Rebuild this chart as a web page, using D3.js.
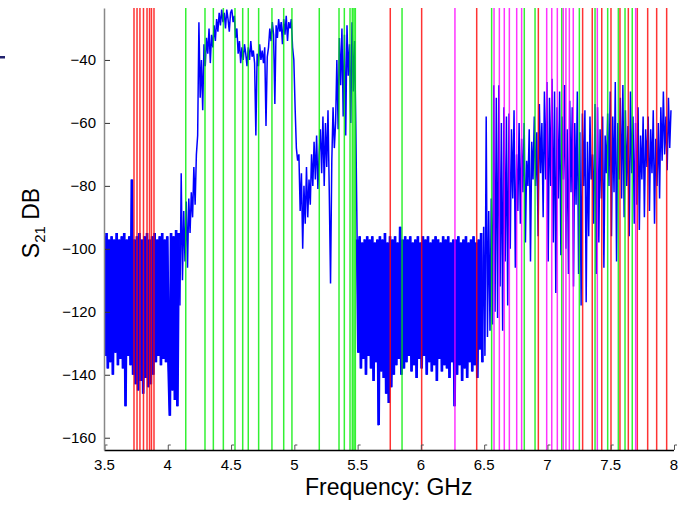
<!DOCTYPE html>
<html>
<head>
<meta charset="utf-8">
<script src="https://cdn.jsdelivr.net/npm/d3@7"></script>
<style>
  body { margin: 0; background: #fff; }
  text { font-family: "Liberation Sans", Arial, sans-serif; }
</style>
</head>
<body>
<div id="graph"></div>
<script>
//Frequency grid of the measured trace (GHz).
let fStart = 3.5;
let fStep = 0.01;

//Measured S21 (dB), one value per grid step, read row by row (0.1 GHz per row).
let s21 = [
  -96,-134,-95,-138,-97,-136,-96,-140,-97,-133,   // 3.5
  -95,-137,-97,-135,-96,-138,-95,-150,-97,-134,   // 3.6
  -96,-137,-78,-140,-97,-143,-96,-145,-95,-142,   // 3.7
  -97,-146,-96,-141,-95,-144,-97,-143,-96,-140,   // 3.8
  -95,-136,-97,-134,-96,-137,-95,-135,-97,-136,   // 3.9
  -96,-137,-153,-95,-145,-96,-148,-94,-150,-95,   // 4.0
  -118,-76,-110,-88,-104,-85,-106,-84,-95,-82,    // 4.1
  -90,-74,-86,-70,-64,-28,-52,-40,-56,-35,        // 4.2
  -42,-33,-38,-30,-41,-32,-36,-29,-34,-27,        // 4.3
  -31,-25,-29,-24,-28,-25,-30,-24,-27,-31,        // 4.4
  -25,-24,-28,-26,-33,-30,-38,-34,-41,-36,        // 4.5
  -40,-35,-38,-42,-36,-40,-34,-39,-37,-41,        // 4.6
  -64,-38,-42,-35,-40,-37,-41,-36,-61,-39,        // 4.7
  -36,-30,-34,-28,-32,-54,-29,-33,-27,-31,        // 4.8
  -28,-35,-27,-32,-26,-34,-28,-30,-27,-36,        // 4.9
  -40,-55,-68,-72,-70,-88,-76,-100,-80,-92,       // 5.0
  -74,-90,-78,-86,-70,-80,-66,-78,-64,-81,        // 5.1
  -70,-62,-76,-58,-80,-60,-74,-56,-82,-111,       // 5.2
  -72,-55,-68,-60,-40,-62,-33,-48,-30,-58,        // 5.3
  -32,-64,-29,-45,-35,-60,-28,-50,-34,-62,        // 5.4
  -97,-133,-96,-138,-98,-135,-97,-140,-96,-134,   // 5.5
  -97,-138,-96,-142,-98,-136,-97,-156,-96,-139,   // 5.6
  -97,-141,-95,-146,-98,-149,-96,-144,-97,-140,   // 5.7
  -96,-137,-98,-135,-93,-140,-97,-138,-96,-136,   // 5.8
  -97,-134,-96,-139,-98,-137,-97,-141,-96,-135,   // 5.9
  -98,-138,-96,-134,-97,-140,-96,-136,-98,-139,   // 6.0
  -97,-137,-96,-142,-97,-135,-98,-139,-96,-137,   // 6.1
  -97,-138,-96,-141,-98,-136,-97,-150,-97,-140,   // 6.2
  -96,-137,-98,-142,-97,-138,-96,-141,-98,-136,   // 6.3
  -97,-139,-96,-137,-98,-141,-97,-132,-95,-136,   // 6.4
  -93,-134,-58,-128,-88,-126,-84,-124,-48,-120,   // 6.5
  -52,-122,-48,-112,-60,-126,-55,-104,-58,-118,   // 6.6
  -57,-100,-62,-84,-56,-106,-70,-88,-60,-92,      // 6.7
  -65,-82,-60,-98,-72,-80,-62,-104,-66,-78,       // 6.8
  -58,-80,-63,-96,-54,-76,-60,-90,-50,-78,        // 6.9
  -47,-104,-52,-80,-46,-98,-50,-114,-55,-84,      // 7.0
  -50,-102,-58,-78,-48,-100,-62,-108,-53,-82,     // 7.1
  -55,-112,-60,-86,-50,-108,-63,-118,-57,-80,     // 7.2
  -56,-117,-66,-96,-58,-78,-70,-92,-54,-108,      // 7.3
  -55,-98,-62,-84,-58,-106,-64,-76,-57,-80,       // 7.4
  -50,-96,-58,-82,-47,-104,-60,-78,-52,-84,       // 7.5
  -48,-90,-56,-80,-61,-96,-50,-76,-58,-92,        // 7.6
  -60,-86,-55,-94,-64,-78,-58,-90,-62,-74,        // 7.7
  -58,-88,-62,-76,-56,-92,-65,-80,-60,-84,        // 7.8
  -55,-72,-50,-70,-58,-75,-52,-68,-56             // 7.9
];

//Noise-floor stretches (GHz) where the trace is so dense it reads as a solid band.
let floorRanges = [[3.5, 4.09], [5.5, 6.49]];

//Marker frequencies (GHz) drawn as vertical lines.
let redLines = [3.737, 3.761, 3.784, 3.812, 3.840, 3.860, 3.875, 3.895,
  5.762, 6.010, 6.445, 6.932, 7.282, 7.358, 7.433, 7.506, 7.577, 7.643, 7.714, 7.796, 7.867, 7.946];
let greenLines = [4.146, 4.298, 4.364, 4.443, 4.535, 4.596, 4.640, 4.722, 4.827, 4.920, 4.985,
  5.201, 5.357, 5.399, 5.444, 5.462, 5.475, 5.486, 5.855, 6.563, 6.821, 6.906, 7.117, 7.256,
  7.380, 7.480, 7.564, 7.617, 7.674];
let magentaLines = [6.273, 6.582, 6.624, 6.663, 6.703, 6.761, 6.800, 6.998, 7.038, 7.082,
  7.129, 7.150, 7.177, 7.208, 7.398, 7.701];

//Tick values.
let xTicks = [3.5, 4, 4.5, 5, 5.5, 6, 6.5, 7, 7.5, 8];
let yTicks = [-40, -60, -80, -100, -120, -140, -160];

let w = 687;
let h = 505;
let padLeft = 104, padRight = 673.5, padTop = 8, padBottom = 450;

const svg = d3.select("#graph")
  .append("svg")
  .attr("width", w)
  .attr("height", h);

let xScale = d3.scaleLinear().domain([3.5, 8]).range([padLeft, padRight]);
let yScale = d3.scaleLinear().domain([-163.9, -23.5]).range([padBottom, padTop]);

svg.append("clipPath").attr("id", "plot-clip")
  .append("rect")
  .attr("x", padLeft).attr("y", padTop)
  .attr("width", padRight - padLeft + 2).attr("height", padBottom - padTop);

let plot = svg.append("g").attr("clip-path", "url(#plot-clip)");

//Blue measured trace.
let freqAt = i => fStart + i * fStep;
let inFloor = i => floorRanges.some(r => freqAt(i) >= r[0] - 1e-9 && freqAt(i) <= r[1] + 1e-9);

let line = d3.line()
  .x((d, i) => xScale(freqAt(i)))
  .y(d => yScale(d));

plot.append("path")
  .datum(s21)
  .attr("fill", "none")
  .attr("stroke", "#0000ff")
  .attr("stroke-width", 1.5)
  .attr("stroke-linejoin", "bevel")
  .attr("d", line);

//Heavier stroke over the dense noise floor so it fills like the original.
plot.append("path")
  .datum(s21)
  .attr("fill", "none")
  .attr("stroke", "#0000ff")
  .attr("stroke-width", 2.7)
  .attr("stroke-linejoin", "bevel")
  .attr("d", line.defined((d, i) => inFloor(i)));

//Vertical marker lines on top.
function drawMarkers(list, color) {
  plot.selectAll(null)
    .data(list)
    .enter()
    .append("line")
    .attr("x1", d => xScale(d))
    .attr("x2", d => xScale(d))
    .attr("y1", padTop)
    .attr("y2", padBottom)
    .attr("stroke", color)
    .attr("stroke-width", 1.5)
    .attr("stroke-opacity", 0.8);
}
drawMarkers(redLines, "#ff0000");
drawMarkers(greenLines, "#00ee00");
drawMarkers(magentaLines, "#ff00ff");

//Axes.
let xAxis = d3.axisBottom(xScale).tickValues(xTicks).tickSize(0).tickPadding(9)
  .tickFormat(d3.format("~g"));
let yAxis = d3.axisLeft(yScale).tickValues(yTicks).tickSize(0).tickPadding(8);

let gx = svg.append("g")
  .attr("transform", "translate(0," + padBottom + ")")
  .call(xAxis);
gx.select(".domain").attr("stroke", "#000").attr("stroke-width", 1.5);
gx.selectAll("text").attr("font-size", "15px").attr("fill", "#000")
  .attr("font-family", "Liberation Sans, Arial, sans-serif");

//Small inward bracket ticks along the bottom.
gx.selectAll(".tick").append("path")
  .attr("d", "M0.5,0 V-5 H3")
  .attr("fill", "none")
  .attr("stroke", "#555")
  .attr("stroke-width", 1);

let gy = svg.append("g")
  .attr("transform", "translate(" + padLeft + ",0)")
  .call(yAxis);
gy.select(".domain").attr("stroke", "#888").attr("stroke-width", 1.5);
gy.selectAll("text").attr("font-size", "15px").attr("fill", "#000")
  .attr("font-family", "Liberation Sans, Arial, sans-serif");
gy.selectAll(".tick").append("line")
  .attr("x1", 1).attr("x2", 6)
  .attr("stroke", "#333")
  .attr("stroke-width", 1);

//Axis labels.
svg.append("text")
  .attr("x", (padLeft + padRight) / 2)
  .attr("y", 495)
  .attr("text-anchor", "middle")
  .attr("font-size", "23px")
  .text("Frequency: GHz");

let yl = svg.append("text")
  .attr("transform", "translate(39,223) rotate(-90)")
  .attr("text-anchor", "middle")
  .attr("font-size", "23px");
yl.append("tspan").text("S");
yl.append("tspan").attr("font-size", "15px").attr("dy", 6).text("21");
yl.append("tspan").attr("dy", -6).text(" DB");

//Stray legend fragment at the left edge.
svg.append("rect")
  .attr("x", 0).attr("y", 56)
  .attr("width", 5).attr("height", 2.5)
  .attr("fill", "#22226e");
</script>
</body>
</html>
